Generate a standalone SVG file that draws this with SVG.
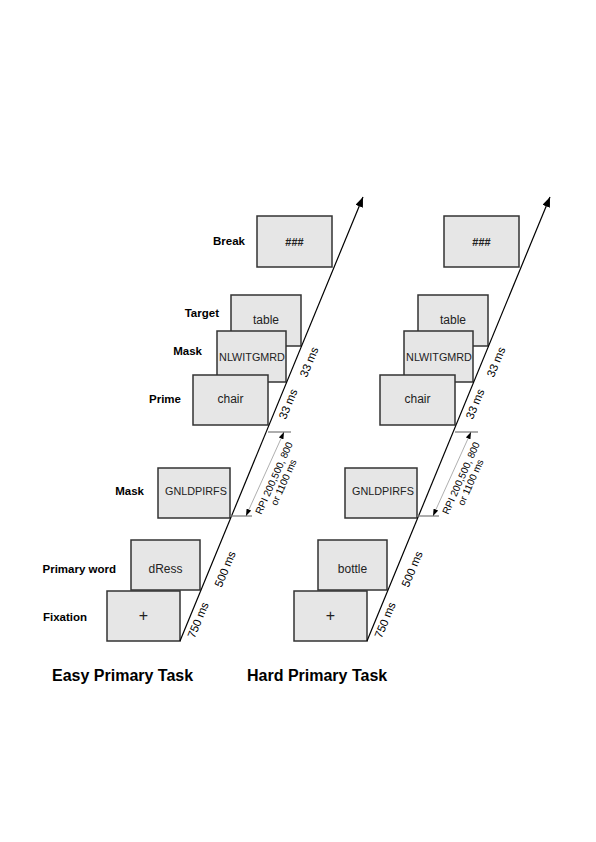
<svg xmlns="http://www.w3.org/2000/svg" width="596" height="842" viewBox="0 0 596 842">
<defs>
<style>
.bg{fill:#ffffff}
.box{fill:#e6e6e6;stroke:#333333;stroke-width:1.5}
.bt{font-family:"Liberation Sans",Arial,sans-serif;font-size:12px;fill:#222222;text-anchor:middle}
.mt{font-family:"Liberation Sans",Arial,sans-serif;font-size:10.8px;fill:#222222;text-anchor:middle}
.hash{font-family:"Liberation Sans",Arial,sans-serif;font-size:11px;font-weight:bold;fill:#222222;text-anchor:middle}
.lab{font-family:"Liberation Sans",Arial,sans-serif;font-size:11.5px;font-weight:bold;fill:#000000;text-anchor:end}
.title{font-family:"Liberation Sans",Arial,sans-serif;font-size:16px;font-weight:bold;fill:#000000}
.ms{font-family:"Liberation Sans",Arial,sans-serif;font-size:11.5px;fill:#000000;text-anchor:middle}
.rpi{font-family:"Liberation Sans",Arial,sans-serif;font-size:10px;fill:#000000;text-anchor:middle}
.axis{stroke:#000000;stroke-width:1.2;fill:none}
.ext{stroke:#808080;stroke-width:1.3;fill:none}
.dim{stroke:#9a9a9a;stroke-width:0.8;fill:none}
</style>
<marker id="arr" viewBox="0 0 10 8" refX="10" refY="4" markerWidth="10" markerHeight="8" markerUnits="userSpaceOnUse" orient="auto">
<path d="M0,0 L10,4 L0,8 z" fill="#000000"/>
</marker>
<marker id="darr" viewBox="0 0 7 5" refX="7" refY="2.5" markerWidth="7" markerHeight="5" markerUnits="userSpaceOnUse" orient="auto">
<path d="M0,0 L7,2.5 L0,5 z" fill="#000000"/>
</marker>
</defs>
<rect class="bg" x="0" y="0" width="596" height="842"/>

<!-- Left panel: Easy Primary Task -->
<g id="easy-break">
<rect class="box" x="257" y="216" width="75" height="51"/>
<text class="hash" x="294.5" y="245.5">###</text>
<text class="lab" x="245" y="245">Break</text>
</g>
<g id="easy-target">
<rect class="box" x="231" y="295" width="70" height="51"/>
<text class="bt" x="266" y="324">table</text>
<text class="lab" x="219" y="316.5">Target</text>
</g>
<g id="easy-mask1">
<rect class="box" x="217" y="331" width="69" height="51"/>
<text class="mt" x="252" y="360.5">NLWITGMRD</text>
<text class="lab" x="202" y="355">Mask</text>
</g>
<g id="easy-prime">
<rect class="box" x="193" y="375" width="75" height="50"/>
<text class="bt" x="230.5" y="402.5">chair</text>
<text class="lab" x="181" y="402.5">Prime</text>
</g>
<g id="easy-mask2">
<rect class="box" x="158" y="468" width="72" height="50"/>
<text class="mt" x="196" y="495">GNLDPIRFS</text>
<text class="lab" x="144" y="495">Mask</text>
</g>
<g id="easy-primary">
<rect class="box" x="131" y="540" width="69" height="50"/>
<text class="bt" x="165.5" y="573">dRess</text>
<text class="lab" x="116" y="573">Primary word</text>
</g>
<g id="easy-fixation">
<rect class="box" x="107" y="591" width="73" height="50"/>
<text class="bt" x="143.5" y="621" style="font-size:16px">+</text>
<text class="lab" x="87" y="620.5">Fixation</text>
</g>

<!-- Right panel: Hard Primary Task -->
<g id="hard-break">
<rect class="box" x="444" y="216" width="75" height="51"/>
<text class="hash" x="481.5" y="245.5">###</text>
</g>
<g id="hard-target">
<rect class="box" x="418" y="295" width="70" height="51"/>
<text class="bt" x="453" y="324">table</text>
</g>
<g id="hard-mask1">
<rect class="box" x="404" y="331" width="69" height="51"/>
<text class="mt" x="439" y="360.5">NLWITGMRD</text>
</g>
<g id="hard-prime">
<rect class="box" x="380" y="375" width="75" height="50"/>
<text class="bt" x="417.5" y="402.5">chair</text>
</g>
<g id="hard-mask2">
<rect class="box" x="345" y="468" width="72" height="50"/>
<text class="mt" x="383" y="495">GNLDPIRFS</text>
</g>
<g id="hard-primary">
<rect class="box" x="318" y="540" width="69" height="50"/>
<text class="bt" x="352.5" y="573">bottle</text>
</g>
<g id="hard-fixation">
<rect class="box" x="294" y="591" width="73" height="50"/>
<text class="bt" x="330.5" y="621" style="font-size:16px">+</text>
</g>

<!-- Connectors: time axes and interval dimensions -->
<g id="connectors">
<line class="axis" x1="180" y1="641" x2="363" y2="197" marker-end="url(#arr)"/>
<line class="axis" x1="367" y1="641" x2="550" y2="197" marker-end="url(#arr)"/>
<line class="ext" x1="268" y1="432" x2="291" y2="432"/>
<line class="ext" x1="230" y1="516" x2="252" y2="516"/>
<line class="dim" x1="265" y1="474" x2="284" y2="432" marker-end="url(#darr)"/>
<line class="dim" x1="265" y1="474" x2="246" y2="516" marker-end="url(#darr)"/>
<line class="ext" x1="455" y1="432" x2="478" y2="432"/>
<line class="ext" x1="417" y1="516" x2="439" y2="516"/>
<line class="dim" x1="452" y1="474" x2="471" y2="432" marker-end="url(#darr)"/>
<line class="dim" x1="452" y1="474" x2="433" y2="516" marker-end="url(#darr)"/>
</g>

<!-- Interval labels -->
<g id="easy-times">
<text class="ms" transform="translate(198,620) rotate(-67.7)" y="4">750 ms</text>
<text class="ms" transform="translate(225,569) rotate(-67.7)" y="4">500 ms</text>
<text class="ms" transform="translate(288,404) rotate(-67.7)" y="4">33 ms</text>
<text class="ms" transform="translate(309,362) rotate(-67.7)" y="4">33 ms</text>
<g transform="translate(274,478) rotate(-66)">
<text class="rpi" x="0" y="3.5">RPI 200,500, 800</text>
<text class="rpi" x="0" y="14">or 1100 ms</text>
</g>
</g>
<g id="hard-times">
<text class="ms" transform="translate(385,620) rotate(-67.7)" y="4">750 ms</text>
<text class="ms" transform="translate(412,569) rotate(-67.7)" y="4">500 ms</text>
<text class="ms" transform="translate(475,404) rotate(-67.7)" y="4">33 ms</text>
<text class="ms" transform="translate(496,362) rotate(-67.7)" y="4">33 ms</text>
<g transform="translate(461,478) rotate(-66)">
<text class="rpi" x="0" y="3.5">RPI 200,500, 800</text>
<text class="rpi" x="0" y="14">or 1100 ms</text>
</g>
</g>

<g id="titles">
<text class="title" x="52" y="681">Easy Primary Task</text>
<text class="title" x="247" y="681">Hard Primary Task</text>
</g>
</svg>
